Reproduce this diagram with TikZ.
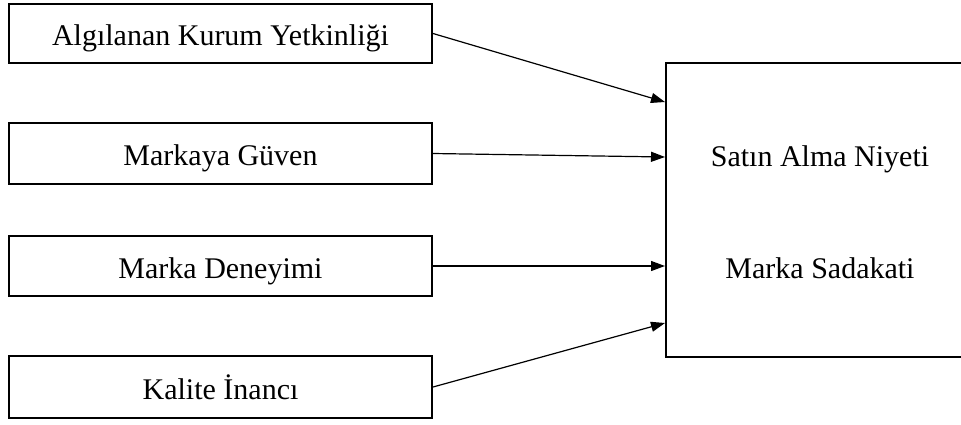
\documentclass[tikz,border=0pt]{standalone}
\usepackage{fontspec}
\setmainfont{Liberation Serif}
\usetikzlibrary{arrows.meta}
\begin{document}
\begin{tikzpicture}[x=1pt,y=-1pt,
  leftbox/.style={draw,line width=2pt,minimum width=423pt,inner sep=0pt,text height=24pt,text depth=0pt,font=\fontsize{30}{33}\selectfont},
  txt/.style={inner sep=0pt,anchor=base,font=\fontsize{30}{33}\selectfont},
  conn/.style={line width=1.2pt,-{Triangle[length=14pt,width=10pt]}}]
\useasboundingbox (0,0) rectangle (961,424);
\node[leftbox,minimum height=59pt] (b1) at (220.5,33.5) {Algılanan Kurum Yetkinliği};
\node[leftbox,minimum height=61pt] (b2) at (220.5,153.5) {Markaya Güven};
\node[leftbox,minimum height=60pt] (b3) at (220.5,266) {Marka Deneyimi};
\node[leftbox,minimum height=62pt] (b4) at (220.5,387) {Kalite İnancı};
\node[draw,line width=2pt,minimum width=310pt,minimum height=294pt,inner sep=0pt] (R) at (821,210) {};
\node[txt] (s1) at (820,166) {Satın Alma Niyeti};
\node[txt] (s2) at (820,278) {Marka Sadakati};
\coordinate (e1) at (665,102);
\coordinate (e2) at (665,157);
\coordinate (e3) at (665,266);
\coordinate (e4) at (665,323);
\draw[conn] (b1.east) -- (e1);
\draw[conn] (b2.east) -- (e2);
\draw[conn] (b3.east) -- (e3);
\draw[conn] (b4.east) -- (e4);
\end{tikzpicture}
\end{document}
